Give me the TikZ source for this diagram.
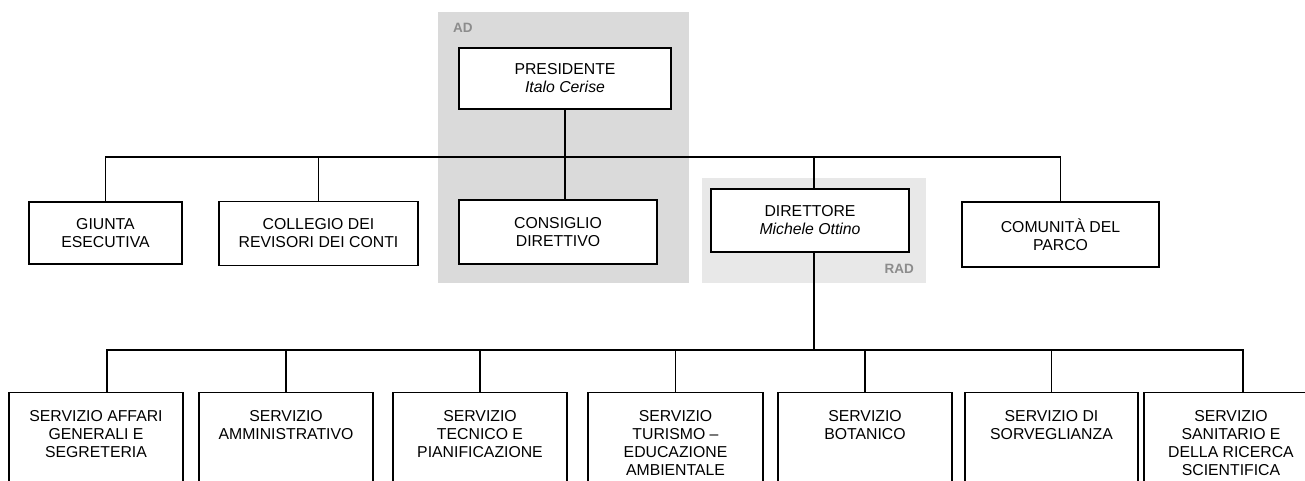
\documentclass[tikz,border=0pt]{standalone}
\usepackage{fontspec}
\setmainfont{Liberation Sans}
\usepackage{tikz}
\usetikzlibrary{positioning}
\definecolor{adgray}{HTML}{DADADA}
\definecolor{radgray}{HTML}{E8E8E8}
\definecolor{taggray}{HTML}{8C8C8C}
\tikzset{
    office/.style={draw, fill=white, line width=1.3pt, inner sep=0pt, align=center, font=\fontsize{15.8}{18}\selectfont},
    service/.style={draw, fill=white, line width=1.3pt, inner sep=0pt, anchor=north, minimum width=174pt, minimum height=120pt},
    servtext/.style={inner sep=0pt, anchor=north, align=center, font=\fontsize{15.8}{18}\selectfont},
    tag/.style={inner sep=0pt, text=taggray, font=\fontsize{13.5}{14}\selectfont\bfseries},
    link/.style={line width=1.3pt}
}
\begin{document}
\begin{tikzpicture}[x=1pt, y=-1pt]
    \useasboundingbox (0,0) rectangle (1305,481);
    \clip (0,0) rectangle (1305,481);

    % shaded groups
    \fill[adgray] (438,12) rectangle (689,283);
    \fill[radgray] (702,178) rectangle (926,283);
    \node[tag, anchor=base west] (adtag) at (453,33) {AD};
    \node[tag, anchor=base east] (radtag) at (914,273) {RAD};

    \coordinate (bar) at (0,157);
    \coordinate (bar2) at (0,350);

    \node[office, minimum width=212pt, minimum height=61pt] (pres) at (565,78.5) {PRESIDENTE\\\textit{Italo Cerise}};

    \node[office, minimum width=153pt, minimum height=62pt] (giunta) at (105.5,233) {GIUNTA\\ESECUTIVA};
    \node[office, minimum width=199pt, minimum height=64pt] (coll) at (318.5,233.5) {COLLEGIO DEI\\REVISORI DEI CONTI};
    \node[office, minimum width=198pt, minimum height=64pt] (cons) at (558,232) {CONSIGLIO\\DIRETTIVO};
    \node[office, minimum width=198pt, minimum height=63pt] (dir) at (810,220.5) {DIRETTORE\\\textit{Michele Ottino}};
    \node[office, minimum width=197pt, minimum height=65pt] (comun) at (1060.5,234.5) {COMUNITÀ DEL\\PARCO};

    \node[service] (s1) at (96,392) {};
    \node[service] (s2) at (286,392) {};
    \node[service] (s3) at (480,392) {};
    \node[service, minimum width=175pt] (s4) at (675.5,392) {};
    \node[service] (s5) at (865,392) {};
    \node[service, minimum width=173pt] (s6) at (1051.5,392) {};
    \node[service] (s7) at (1231,392) {};

    \node[servtext, below=18pt of s1.north] (t1) {SERVIZIO AFFARI\\GENERALI E\\SEGRETERIA};
    \node[servtext, below=18pt of s2.north] (t2) {SERVIZIO\\AMMINISTRATIVO};
    \node[servtext, below=18pt of s3.north] (t3) {SERVIZIO\\TECNICO E\\PIANIFICAZIONE};
    \node[servtext, below=18pt of s4.north] (t4) {SERVIZIO\\TURISMO –\\EDUCAZIONE\\AMBIENTALE};
    \node[servtext, below=18pt of s5.north] (t5) {SERVIZIO\\BOTANICO};
    \node[servtext, below=18pt of s6.north] (t6) {SERVIZIO DI\\SORVEGLIANZA};
    \node[servtext, below=18pt of s7.north] (t7) {SERVIZIO\\SANITARIO E\\DELLA RICERCA\\SCIENTIFICA};

    \draw[link] (pres.south) -- (pres.south |- cons.north);
    \draw[link] (giunta.north) |- (comun.north |- bar) -- (comun.north);
    \draw[link] (coll.north) -- (coll.north |- bar);
    \draw[link] ([xshift=4pt]dir.north |- bar) -- ([xshift=4pt]dir.north);
    \draw[link] ([xshift=4pt]dir.south) -- ([xshift=4pt]dir.south |- bar2);

    \draw[link] ([xshift=11pt]s1.north) |- ([xshift=12pt]s7.north |- bar2) -- ([xshift=12pt]s7.north);
    \draw[link] (s2.north) -- (s2.north |- bar2);
    \draw[link] (s3.north) -- (s3.north |- bar2);
    \draw[link] (s4.north) -- (s4.north |- bar2);
    \draw[link] (s5.north) -- (s5.north |- bar2);
    \draw[link] (s6.north) -- (s6.north |- bar2);
\end{tikzpicture}
\end{document}
